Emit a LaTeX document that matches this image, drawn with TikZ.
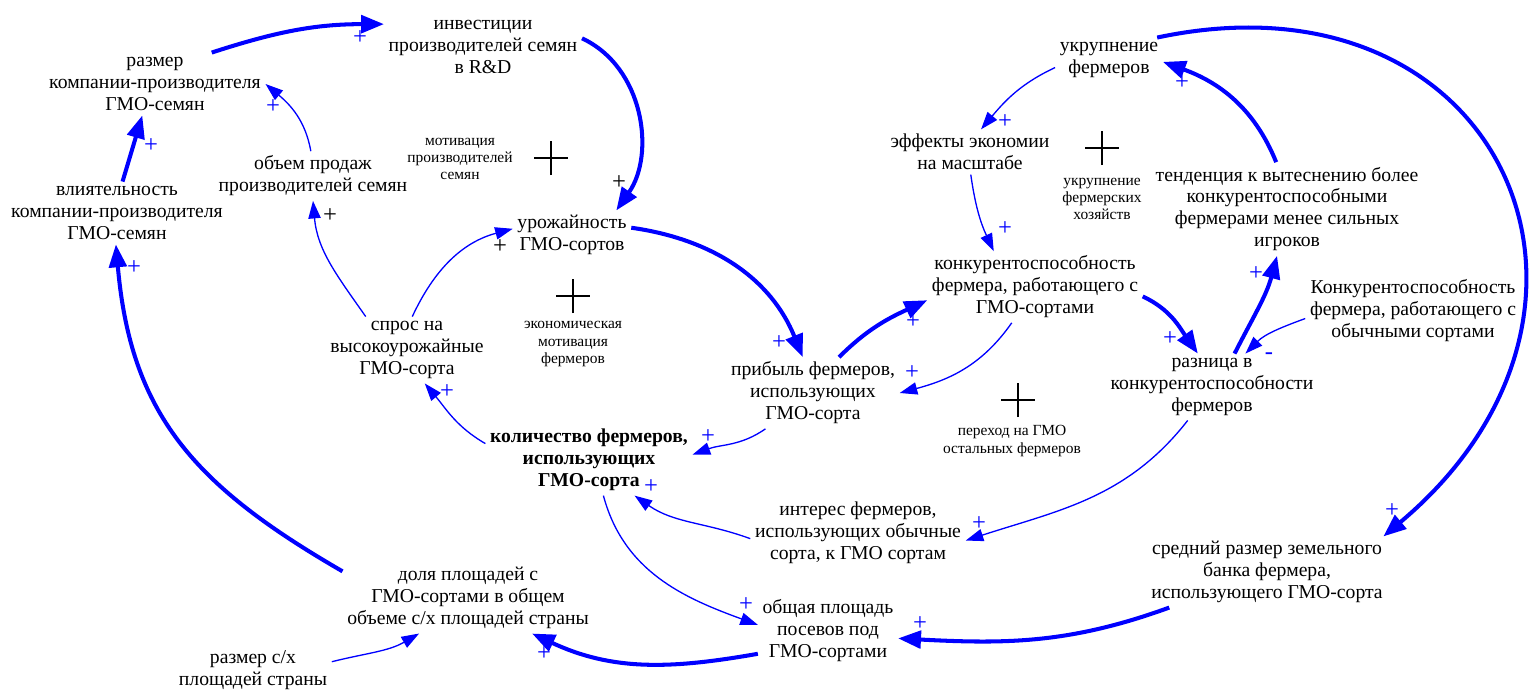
\documentclass[tikz,border=0pt]{standalone}
\usepackage{fontspec}
\setmainfont{Liberation Serif}
\usetikzlibrary{arrows.meta}

\tikzset{
  var/.style={align=center, inner sep=2.5pt, font=\fontsize{11.2}{12.5}\selectfont},
  keyvar/.style={var, font=\fontsize{11.2}{12.5}\selectfont\bfseries},
  loopname/.style={align=center, inner sep=1pt, font=\fontsize{8.8}{9.7}\selectfont},
  link/.style={draw=blue, line width=0.75pt, -{Triangle[length=10pt,width=7pt]}},
  strong/.style={draw=blue, line width=2.3pt, -{Triangle[length=13pt,width=10pt]}},
  pol/.style={text=blue, inner sep=0pt, font=\fontsize{14}{14}\selectfont},
  loopmark/.pic={\draw[line width=1.6pt] (-17,0) -- (17,0) (0,-17) -- (0,17);}
}

\begin{document}
\begin{tikzpicture}[x=0.02cm,y=0.02cm]
\useasboundingbox (0,0) rectangle (1532,-690);

% переменные: семена
\node[var] (razmer) at (155,-84) {размер\\компании-производителя\\ГМО-семян};
\node[var] (invest) at (483,-47) {инвестиции\\производителей семян\\в R\&D};
\node[var] (obem) at (313,-176) {объем продаж\\производителей семян};
\node[var] (vliyat) at (117,-213) {влиятельность\\компании-производителя\\ГМО-семян};
\node[var] (urozh) at (572,-235) {урожайность\\ГМО-сортов};
\node[var] (spros) at (407,-350) {спрос на\\высокоурожайные\\ГМО-сорта};
\node[var] (pribyl) at (813,-393) {прибыль фермеров,\\использующих\\ГМО-сорта};
\node[keyvar] (kolich) at (589,-460) {количество фермеров,\\использующих\\ГМО-сорта};

% переменные: фермеры
\node[var] (ukrup) at (1109,-60) {укрупнение\\фермеров};
\node[var] (effekty) at (970,-152) {эффекты экономии\\на масштабе};
\node[var] (tendenc) at (1287,-209) {тенденция к вытеснению более\\конкурентоспособными\\фермерами менее сильных\\игроков};
\node[var] (konkur) at (1035,-287) {конкурентоспособность\\фермера, работающего с\\ГМО-сортами};
\node[var] (konkurObych) at (1413,-311) {Конкурентоспособность\\фермера, работающего с\\обычными сортами};
\node[var] (raznica) at (1212,-387) {разница в\\конкурентоспособности\\фермеров};
\node[var] (interes) at (858,-533) {интерес фермеров,\\использующих обычные\\сорта, к ГМО сортам};
\node[var] (sredniy) at (1267,-572) {средний размер земельного\\банка фермера,\\использующего ГМО-сорта};

% переменные: площади
\node[var] (obshaya) at (828,-631) {общая площадь\\посевов под\\ГМО-сортами};
\node[var] (dolya) at (468,-598) {доля площадей с\\ГМО-сортами в общем\\объеме с/х площадей страны};
\node[var] (razmerSX) at (253,-670) {размер с/х\\площадей страны};

% петли
\pic at (551,-158) {loopmark};
\node[loopname] (loopSeed) at (460,-159) {мотивация\\производителей\\семян};
\pic at (573,-296) {loopmark};
\node[loopname] (loopEcon) at (573,-344) {экономическая\\мотивация\\фермеров};
\pic at (1102,-148) {loopmark};
\node[loopname] (loopMerge) at (1102,-199) {укрупнение\\фермерских\\хозяйств};
\pic at (1018,-400) {loopmark};
\node[loopname] (loopSwitch) at (1012,-441) {переход на ГМО\\остальных фермеров};

% связи
\draw[strong] (razmer.29) to[out=18,in=180] (invest.167);
\draw[strong] (invest.5) to[out=-25,in=55] (urozh.29);
\draw[link] (obem.95) to[out=100,in=-40] (razmer.0);
\draw[strong] (vliyat.80) -- (razmer.-112);
\draw[strong] (dolya.168) to[out=150,in=-85,looseness=1.1] (vliyat.-92);
\draw[link] (spros.141) to[out=125,in=-85] (obem.-90);
\draw[link] (spros.81) to[out=65,in=-165] (urozh.174);
\draw[strong] (urozh.7) to[out=-8,in=112] (pribyl.106);
\draw[link] (kolich.171) to[out=150,in=-50] (spros.-62);
\draw[link] (pribyl.-143) to[out=-145,in=20] (kolich.3);
\draw[strong] (pribyl.54) to[out=45,in=-155] (konkur.-173);
\draw[link] (konkur.-123) to[out=-125,in=15] (pribyl.0);
\draw[strong] (konkur.-5) to[out=-25,in=125] (raznica.113);
\draw[link] (konkurObych.-176) to[out=-160,in=45] (raznica.45);
\draw[strong] (raznica.56) to[out=63,in=-105] (tendenc.-102);
\draw[strong] (tendenc.103) to[out=112,in=-20] (ukrup.-2);
\draw[link] (ukrup.-172) to[out=-155,in=50] (effekty.64);
\draw[link] (effekty.-88) to[out=-82,in=115] (konkur.139);
\draw[strong] (ukrup.25) to[out=12,in=40,looseness=1.65] (sredniy.17);
\draw[link] (raznica.-126) to[out=-128,in=18] (interes.-4);
\draw[link] (interes.-177) to[out=160,in=-35] (kolich.-38);
\draw[link] (kolich.-68) to[out=-75,in=160] (obshaya.175);
\draw[strong] (obshaya.-162) to[out=-170,in=-25] (dolya.-29);
\draw[strong] (sredniy.-160) to[out=-160,in=-3] (obshaya.-6);
\draw[link] (razmerSX.6) to[out=14,in=-150] (dolya.-144);

% полярности
\foreach \px/\py [count=\i] in {360/-38, 273/-107, 151/-146, 134/-268, 779/-343,
    447/-392, 708/-437, 913/-322, 912/-373, 1170/-339, 1256/-274, 1182/-83,
    1005/-122, 1005/-229, 1392/-511, 979/-524, 651/-487, 746/-605, 920/-624, 544/-654}
  \node[pol] (plus\i) at (\px,\py) {+};
\foreach \px/\py [count=\i] in {619/-183, 500/-247, 330/-216}
  \node[pol,text=black] (plusK\i) at (\px,\py) {+};
\node[pol] (minus1) at (1269,-356) {-};
\end{tikzpicture}
\end{document}
